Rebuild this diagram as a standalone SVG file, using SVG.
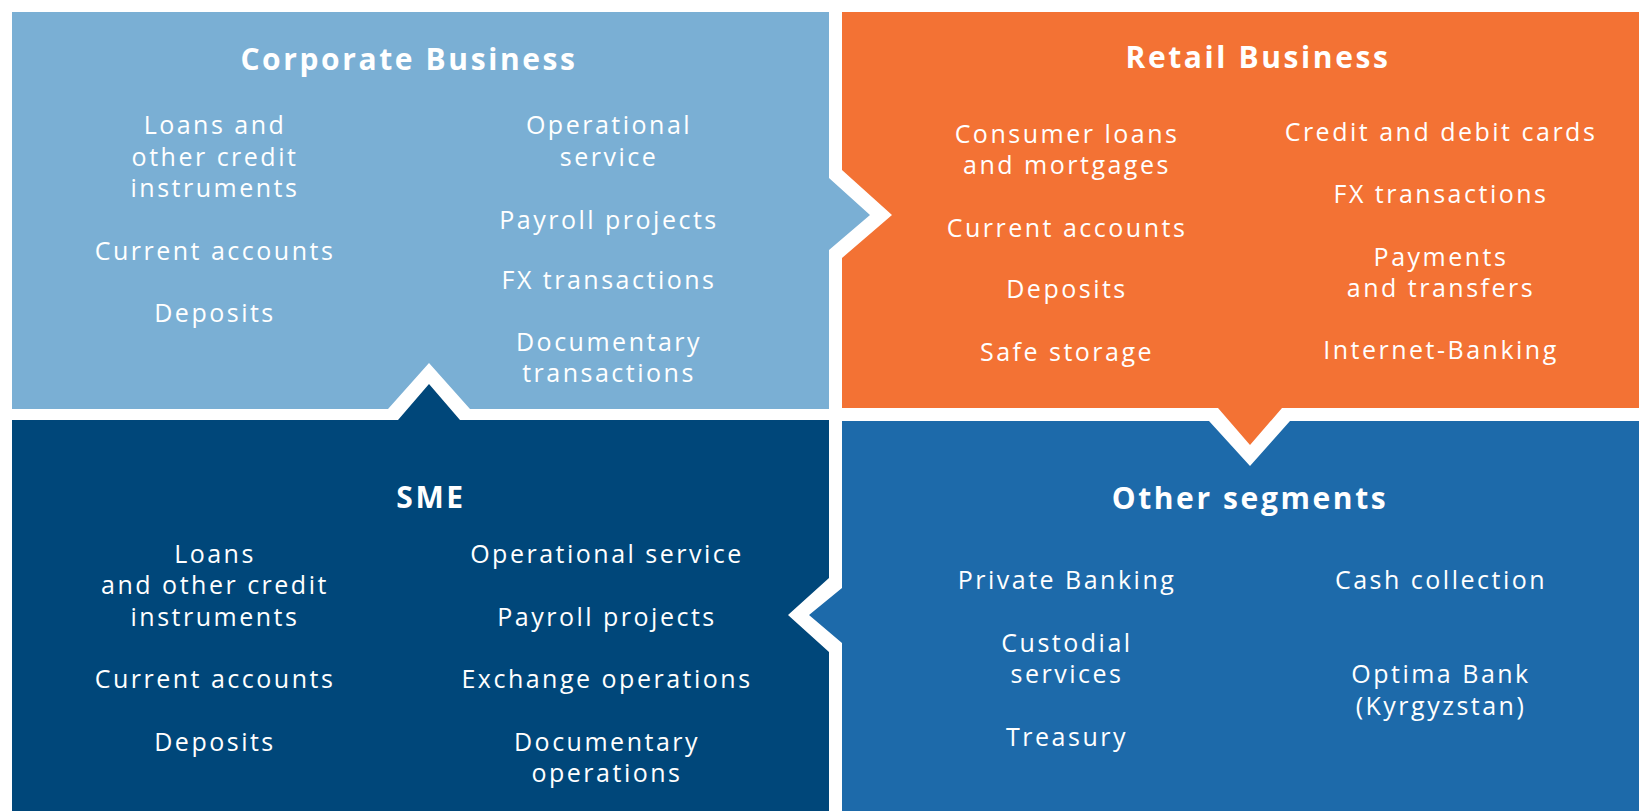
<svg xmlns="http://www.w3.org/2000/svg" width="1639" height="811" viewBox="0 0 1639 811">
  <style>
    .item { font-family: "Open Sans", "Liberation Sans", sans-serif; font-size: 25px; fill: #ffffff; text-anchor: middle; letter-spacing: 2.5px; }
    .title { font-family: "Open Sans", "Liberation Sans", sans-serif; font-size: 30px; font-weight: 700; fill: #ffffff; text-anchor: middle; letter-spacing: 2.6px; }
  </style>
  <rect width="1639" height="811" fill="#ffffff"/>

  <!-- Corporate Business quadrant -->
  <g id="corporate">
    <polygon fill="#7AAFD4" points="12,12 829,12 829,178 870,215 829,250 829,409 470,409 429,363 388,409 12,409"/>
    <text class="title" x="409" y="70">Corporate Business</text>
    <text class="item" x="215" y="134">Loans and</text>
    <text class="item" x="215" y="165.5">other credit</text>
    <text class="item" x="215" y="197">instruments</text>
    <text class="item" x="215" y="259.5">Current accounts</text>
    <text class="item" x="215" y="322">Deposits</text>
    <text class="item" x="609" y="134">Operational</text>
    <text class="item" x="609" y="165.5">service</text>
    <text class="item" x="609" y="228.5">Payroll projects</text>
    <text class="item" x="609" y="289">FX transactions</text>
    <text class="item" x="609" y="350.5">Documentary</text>
    <text class="item" x="609" y="382">transactions</text>
  </g>

  <!-- Retail Business quadrant -->
  <g id="retail">
    <polygon fill="#F37234" points="842,12 1639,12 1639,408 1282,408 1250,445 1218,408 842,408 842,258 892,215 842,170"/>
    <text class="title" x="1258" y="68">Retail Business</text>
    <text class="item" x="1067" y="142.7">Consumer loans</text>
    <text class="item" x="1067" y="174">and mortgages</text>
    <text class="item" x="1067" y="236.8">Current accounts</text>
    <text class="item" x="1067" y="298.4">Deposits</text>
    <text class="item" x="1067" y="361">Safe storage</text>
    <text class="item" x="1441" y="140.6">Credit and debit cards</text>
    <text class="item" x="1441" y="203.3">FX transactions</text>
    <text class="item" x="1441" y="266">Payments</text>
    <text class="item" x="1441" y="297.4">and transfers</text>
    <text class="item" x="1441" y="359">Internet-Banking</text>
  </g>

  <!-- SME quadrant -->
  <g id="sme">
    <polygon fill="#00477A" points="12,420 398,420 429,384 460,420 829,420 829,578 788,615 829,652 829,811 12,811"/>
    <text class="title" x="431" y="508">SME</text>
    <text class="item" x="215" y="563">Loans</text>
    <text class="item" x="215" y="594.3">and other credit</text>
    <text class="item" x="215" y="625.6">instruments</text>
    <text class="item" x="215" y="688.3">Current accounts</text>
    <text class="item" x="215" y="751">Deposits</text>
    <text class="item" x="607" y="563">Operational service</text>
    <text class="item" x="607" y="625.6">Payroll projects</text>
    <text class="item" x="607" y="688.3">Exchange operations</text>
    <text class="item" x="607" y="751">Documentary</text>
    <text class="item" x="607" y="782.4">operations</text>
  </g>

  <!-- Other segments quadrant -->
  <g id="other">
    <polygon fill="#1D6AAA" points="842,421 1209,421 1250,466 1290,421 1639,421 1639,811 842,811 842,643 809,615 842,588"/>
    <text class="title" x="1250" y="509">Other segments</text>
    <text class="item" x="1067" y="589">Private Banking</text>
    <text class="item" x="1067" y="651.8">Custodial</text>
    <text class="item" x="1067" y="683">services</text>
    <text class="item" x="1067" y="745.8">Treasury</text>
    <text class="item" x="1441" y="589">Cash collection</text>
    <text class="item" x="1441" y="683">Optima Bank</text>
    <text class="item" x="1441" y="714.5">(Kyrgyzstan)</text>
  </g>

  <!-- no separate connectors: the chevrons are cut into the quadrant outlines -->
  <g id="connectors"/>
</svg>
